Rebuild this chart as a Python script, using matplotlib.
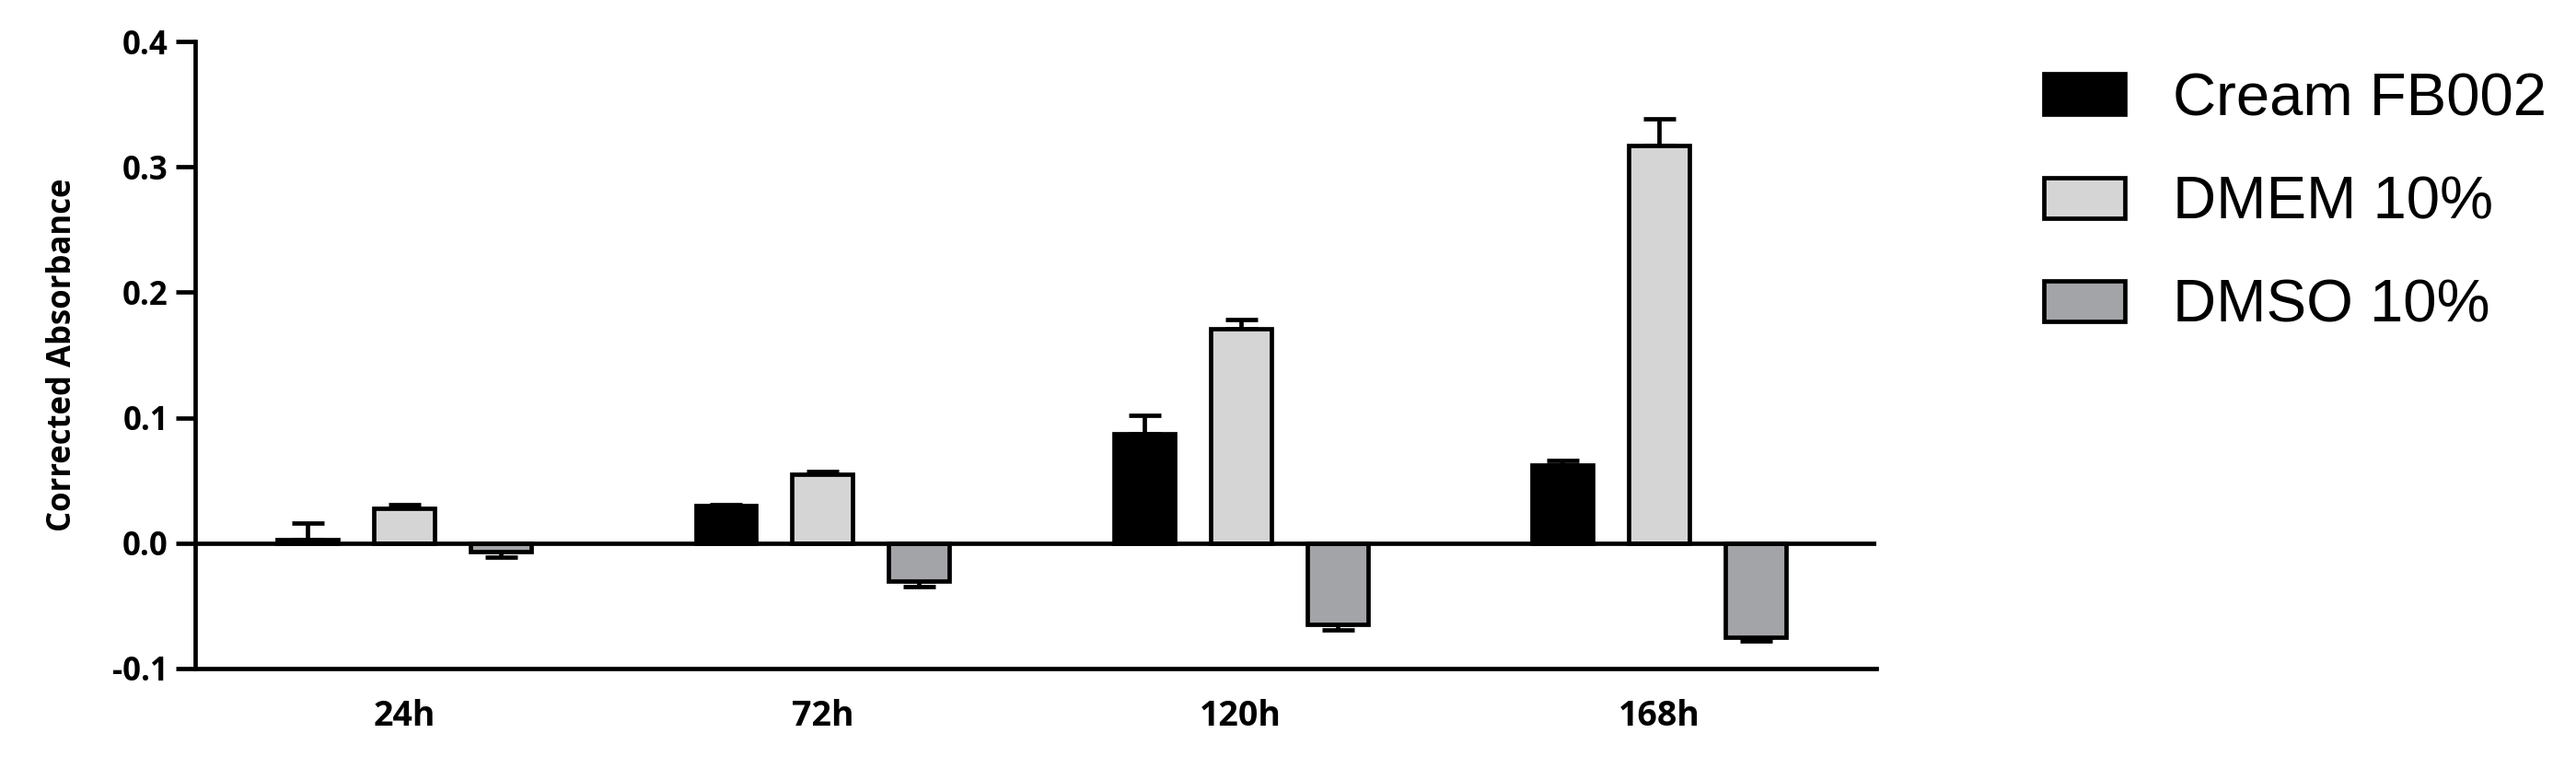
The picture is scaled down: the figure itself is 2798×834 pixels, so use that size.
import matplotlib
matplotlib.use("Agg")
import matplotlib.pyplot as plt
import numpy as np

timepoints = ['24h', '72h', '120h', '168h']
series_names = ['Cream FB002', 'DMEM 10%', 'DMSO 10%']
cream_vals = [0.003, 0.030, 0.087, 0.062]
cream_err = [0.013, 0.001, 0.015, 0.004]
dmem_vals = [0.028, 0.055, 0.171, 0.317]
dmem_err = [0.003, 0.002, 0.007, 0.021]
dmso_vals = [-0.007, -0.030, -0.065, -0.075]
dmso_err = [0.004, 0.005, 0.004, 0.003]

colors = ['#000000', '#d5d5d5', '#a3a4a7']
axis_font = 'Open Sans'

fig = plt.figure(figsize=(13.99, 4.17), dpi=200)
ax = fig.add_axes([0.0758, 0.1295, 0.6526, 0.8165])

x = np.arange(len(timepoints))
offset = 0.231
width = 0.145
lw = 1.7

for i, (vals, errs) in enumerate(zip([cream_vals, dmem_vals, dmso_vals],
                                     [cream_err, dmem_err, dmso_err])):
    vals = np.array(vals)
    errs = np.array(errs)
    pos = x + (i - 1) * offset
    # one-sided error bars, pointing away from zero
    lower = np.where(vals < 0, errs, 0)
    upper = np.where(vals >= 0, errs, 0)
    ax.errorbar(pos, vals, yerr=[lower, upper], fmt='none', ecolor='black',
                elinewidth=lw, capsize=6.3, capthick=lw, zorder=1)
    ax.bar(pos, vals, width, color=colors[i], edgecolor='black', linewidth=lw,
           label=series_names[i], zorder=2)

ax.axhline(0, color='black', linewidth=lw, zorder=3)

ax.set_xlim(-0.5, 3.52)
ax.set_ylim(-0.1, 0.4)
ax.set_yticks([-0.1, 0.0, 0.1, 0.2, 0.3, 0.4])
ax.set_yticklabels(['-0.1', '0.0', '0.1', '0.2', '0.3', '0.4'])
ax.set_xticks(x)
ax.set_xticklabels(timepoints)

for side in ['top', 'right']:
    ax.spines[side].set_visible(False)
for side in ['left', 'bottom']:
    ax.spines[side].set_linewidth(lw)

ax.tick_params(axis='y', length=7.5, width=lw, pad=3, labelsize=12.5)
ax.tick_params(axis='x', length=0, pad=12, labelsize=13.5)
for lab in ax.get_xticklabels() + ax.get_yticklabels():
    lab.set_fontweight('bold')
    lab.set_family(axis_font)

ax.set_ylabel('Corrected Absorbance', fontsize=12.5, fontweight='bold',
              family=axis_font, labelpad=13)

fig.legend(loc='upper left', bbox_to_anchor=(0.7934, 0.906), frameon=False,
           prop={'family': 'Liberation Sans', 'size': 23.5},
           handlelength=1.35, handleheight=0.66, handletextpad=0.8,
           labelspacing=0.8, borderpad=0, borderaxespad=0)

fig.savefig('out.png', dpi=200)
